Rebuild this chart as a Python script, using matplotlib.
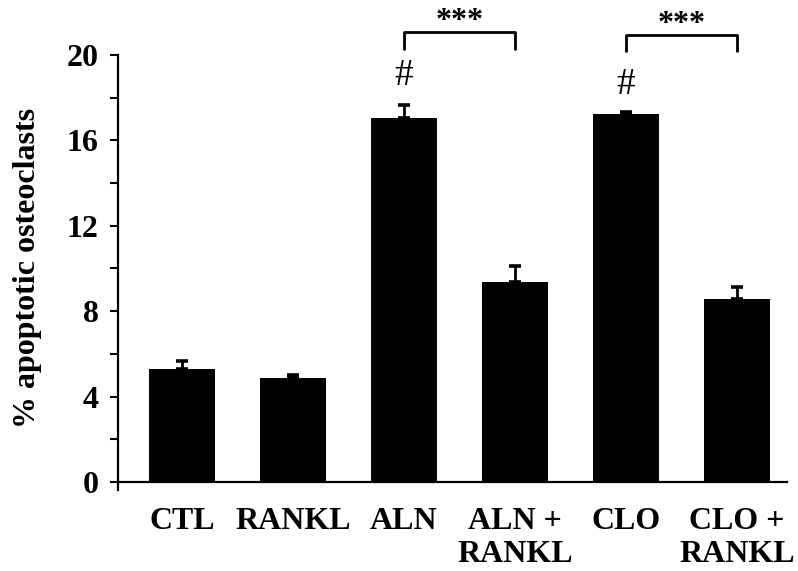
import numpy as np
import matplotlib
matplotlib.use('Agg')
import matplotlib.pyplot as plt

# group names and measured means / SEM (upper only)
groups = ['CTL', 'RANKL', 'ALN', 'ALN +\nRANKL', 'CLO', 'CLO +\nRANKL']
means = [5.29, 4.87, 17.03, 9.34, 17.24, 8.56]
errs = [0.38, 0.14, 0.63, 0.75, 0.08, 0.59]

# '#' marks over single treatments, brackets between treatment and treatment + RANKL
hash_groups = [2, 4]
hash_y = [19.0, 18.6]
brackets = [(2, 3), (4, 5)]
bracket_top = [21.08, 20.94]
bracket_bottom = [20.23, 20.14]
star_y = [21.55, 21.4]

plt.rcParams['font.family'] = ['Liberation Serif', 'DejaVu Serif']

fig = plt.figure(figsize=(7.98, 5.71), dpi=100)
ax = fig.add_axes([0.148, 0.156, 0.838, 0.748])

x = np.arange(len(groups))
ax.bar(x, means, width=0.6, color='black', zorder=2)
ax.errorbar(x, means, yerr=[np.zeros(len(errs)), errs], fmt='none',
            ecolor='black', elinewidth=2.0, capsize=4, capthick=2.6, zorder=3)

for g, hy in zip(hash_groups, hash_y):
    ax.text(x[g], hy, '#', ha='center', va='center', fontsize=27)

for (a, b), top, bot, sy in zip(brackets, bracket_top, bracket_bottom, star_y):
    ax.plot([x[a], x[a], x[b], x[b]], [bot, top, top, bot], color='black',
            lw=2.0, clip_on=False, solid_capstyle='butt')
    ax.text((x[a] + x[b]) / 2, sy, '***', ha='center', va='center',
            fontsize=23, fontweight='bold', clip_on=False)

ax.set_xlim(-0.577, 5.45)
ax.set_ylim(0, 20)
ax.set_yticks([0, 4, 8, 12, 16, 20])
ax.set_yticks([2, 6, 10, 14, 18], minor=True)
ax.set_xticks(x)
ax.set_xticklabels(groups, fontsize=23, fontweight='bold', linespacing=1.2)
ax.tick_params(axis='x', length=0, pad=18)
ax.tick_params(axis='y', which='both', direction='out', length=6, width=1.5,
               labelsize=23, pad=8)
for lab in ax.get_yticklabels():
    lab.set_fontweight('bold')
ax.set_ylabel('% apoptotic osteoclasts', fontsize=23, fontweight='bold', labelpad=18)

for side in ['top', 'right']:
    ax.spines[side].set_visible(False)
for side in ['left', 'bottom']:
    ax.spines[side].set_linewidth(1.6)
# small stub of the y axis below the origin
ax.plot([-0.577, -0.577], [0, -0.4], color='black', lw=1.6, clip_on=False)

fig.savefig('out.png', dpi=100)
